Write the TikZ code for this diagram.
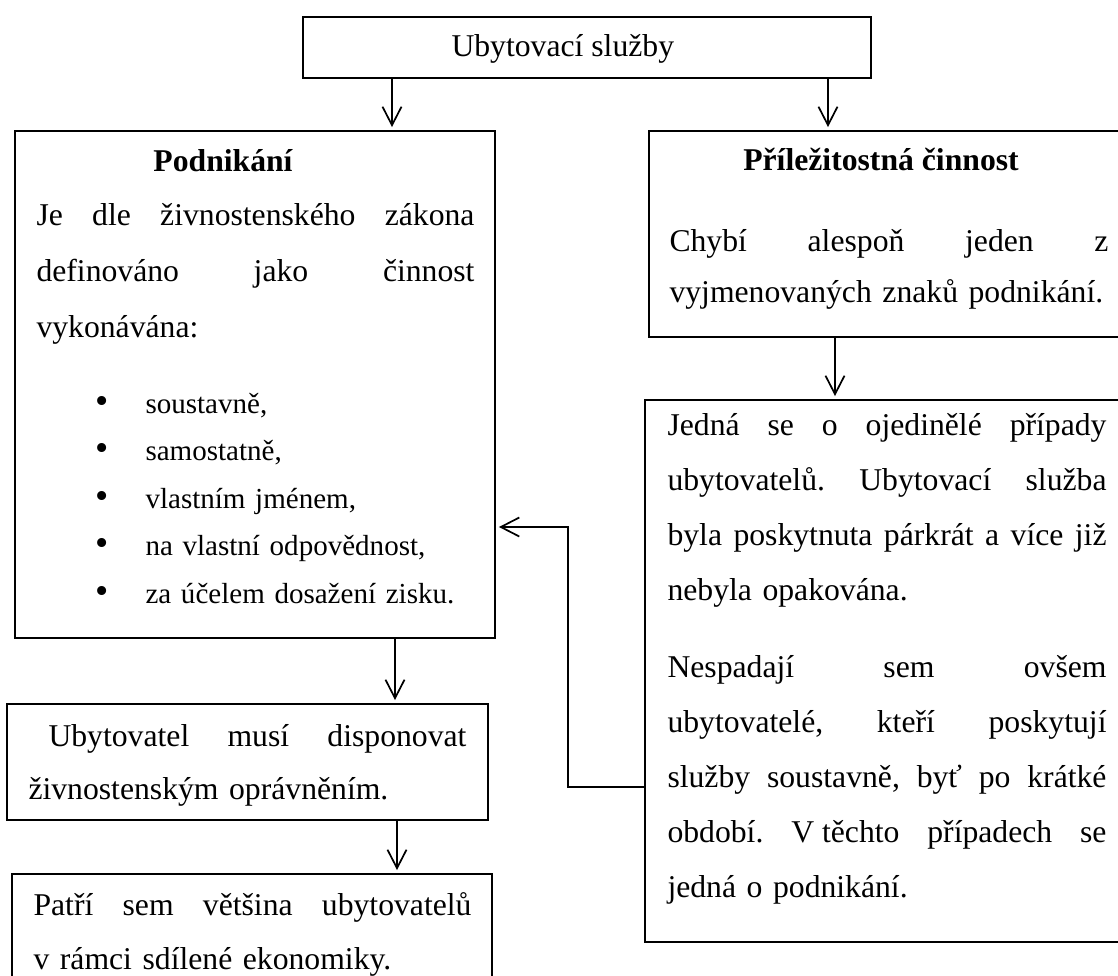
\documentclass[tikz,border=0pt]{standalone}
\usepackage{fontspec}
\usepackage{graphicx}
\setmainfont{Liberation Serif}
\usetikzlibrary{arrows.meta}
\newdimen\pxunit
\pxunit=0.3788pt
\newcommand{\spread}[2]{{\frenchspacing\spaceskip=0pt\xspaceskip=0pt\makebox[#1\pxunit][s]{#2}}}
\newcommand{\dotitem}{\makebox[50\pxunit][l]{\scalebox{1.3}{\textbullet}}}

\begin{document}
\begin{tikzpicture}[x=0.3788pt, y=-0.3788pt,
    frame/.style 2 args={draw, line width=0.75pt, anchor=north west, inner sep=0pt, outer sep=0pt,
        minimum width=#1*0.3788pt, minimum height=#2*0.3788pt},
    txt/.style={anchor=base west, inner sep=0pt, align=left, font=\fontsize{12}{14}\selectfont},
    para/.style 2 args={txt, text width=#1*0.3788pt, font=\fontsize{12}{#2\pxunit}\selectfont},
    head/.style={anchor=base, inner sep=0pt, font=\fontsize{12}{14}\selectfont\bfseries},
    arr/.style={-{Straight Barb[length=7pt, width=7.2pt]}, line width=0.65pt, shorten >=1.5pt}]
    \useasboundingbox (0,0) rectangle (1118,976);
    \clip (0,0) rectangle (1118,976);

    \node[frame={568}{61}] (services) at (303,17) {};
    \node[frame={480}{507}] (business) at (15,131) {};
    \node[frame={476}{206}] (occasional) at (649,131) {};
    \node[frame={480}{542}] (cases) at (645,400) {};
    \node[frame={481}{116}] (licence) at (7,704) {};
    \node[frame={480}{120}] (sharing) at (12,874) {};

    \node[txt] (servicesT) at (451,56) {Ubytovací služby};

    \node[head] (businessH) at (223,171) {Podnikání};
    \node[para={440}{56}] (businessT) at (36,225)
        {\spread{438}{Je dle živnostenského zákona}\\
         \spread{438}{definováno jako činnost}\\
         vykonávána:};
    \node[para={400}{47.5}, font=\fontsize{11}{47.5\pxunit}\selectfont] (traits) at (95,413)
        {\dotitem soustavně,\\
         \dotitem samostatně,\\
         \dotitem vlastním jménem,\\
         \dotitem na vlastní odpovědnost,\\
         \dotitem za účelem dosažení zisku.};

    \node[head] (occasionalH) at (881,170) {Příležitostná činnost};
    \node[para={441}{51}] (occasionalT) at (669,251)
        {\spread{439}{Chybí alespoň jeden z}\\
         vyjmenovaných znaků podnikání.};

    \node[para={441}{55}] (casesA) at (667,435)
        {\spread{439}{Jedná se o ojedinělé případy}\\
         \spread{439}{ubytovatelů. Ubytovací služba}\\
         \spread{439}{byla poskytnuta párkrát a více již}\\
         nebyla opakována.};
    \node[para={441}{55}] (casesB) at (667,677)
        {\spread{439}{Nespadají sem ovšem}\\
         \spread{439}{ubytovatelé, kteří poskytují}\\
         \spread{439}{služby soustavně, byť po krátké}\\
         \spread{439}{období. V\hspace{0.25em}těchto případech se}\\
         jedná o podnikání.};

    \node[para={440}{53}] (licenceT) at (28,746)
        {\hspace*{20\pxunit}\spread{418}{Ubytovatel musí disponovat}\\
         živnostenským oprávněním.};
    \node[para={440}{54}] (sharingT) at (33,915)
        {\spread{438}{Patří sem většina ubytovatelů}\\
         v~rámci sdílené ekonomiky.};

    \coordinate (knee) at (568,527);

    \draw[arr] (392,0 |- services.south) -- (392,0 |- business.north);
    \draw[arr] (828,0 |- services.south) -- (828,0 |- occasional.north);
    \draw[arr] (835,0 |- occasional.south) -- (835,0 |- cases.north);
    \draw[arr] (395,0 |- business.south) -- (395,0 |- licence.north);
    \draw[arr] (397,0 |- licence.south) -- (397,0 |- sharing.north);
    \draw[arr] (cases.west |- 0,787) -| (knee) -- (business.east |- knee);
\end{tikzpicture}
\end{document}
